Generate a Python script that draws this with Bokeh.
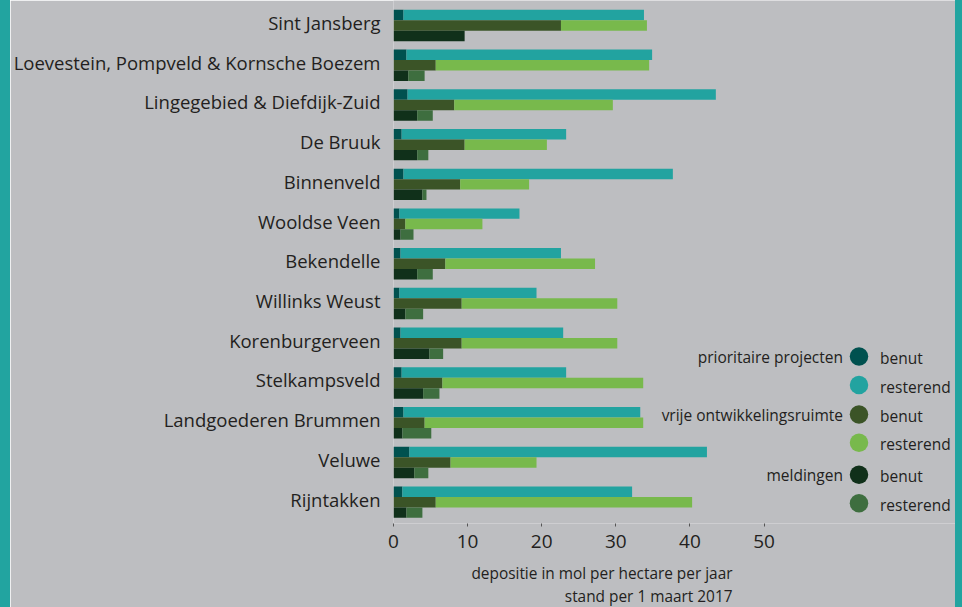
import numpy as np
from bokeh.plotting import figure
from bokeh.models import ColumnDataSource, FixedTicker, Range1d, Title, Spacer
from bokeh.core.properties import value
from bokeh.layouts import row
from bokeh.embed import file_html
from bokeh.resources import INLINE

# ---------------- data ----------------
categories = ["Sint Jansberg", "Loevestein, Pompveld & Kornsche Boezem",
              "Lingegebied & Diefdijk-Zuid", "De Bruuk", "Binnenveld",
              "Wooldse Veen", "Bekendelle", "Willinks Weust", "Korenburgerveen",
              "Stelkampsveld", "Landgoederen Brummen", "Veluwe", "Rijntakken"]

pp_benut = [1.35, 1.75, 1.9, 1.1, 1.35, 0.8, 0.95, 0.8, 0.95, 1.1, 1.35, 2.15, 1.2]
pp_resterend = [32.45, 33.15, 41.6, 22.2, 36.35, 16.2, 21.65, 18.5, 21.95, 22.2, 31.95, 40.15, 31.0]
vo_benut = [22.6, 5.7, 8.2, 9.6, 9.0, 1.6, 7.0, 9.2, 9.2, 6.6, 4.2, 7.7, 5.7]
vo_resterend = [11.6, 28.8, 21.4, 11.1, 9.3, 10.4, 20.2, 21.0, 21.0, 27.1, 29.5, 11.6, 34.6]
m_benut = [9.6, 2.0, 3.2, 3.2, 3.9, 0.95, 3.2, 1.6, 4.85, 4.0, 1.2, 2.8, 1.75]
m_resterend = [0.0, 2.2, 2.1, 1.5, 0.55, 1.75, 2.1, 2.4, 1.85, 2.2, 3.9, 1.9, 2.15]

x_ticks = [0, 10, 20, 30, 40, 50]
groups = ["prioritaire projecten", "vrije ontwikkelingsruimte", "meldingen"]
parts = ["benut", "resterend"]
axis_title = ["depositie in mol per hectare per jaar", "stand per 1 maart 2017"]

# ---------------- style / layout ----------------
BG = "#bdbec1"
TEAL = "#22a4a0"
TXT = "#231f20"
FONT = "Open Sans"
COLORS = [["#00514f", "#22a3a0"],
          ["#3b5427", "#78b94c"],
          ["#10301a", "#3e6e3f"]]

W, H = 962, 607
LEFT_STRIP, RIGHT_STRIP = 10, 7
MAIN_W = W - LEFT_STRIP - RIGHT_STRIP
FRAME_LEFT_PAGE = 393
FRAME_RIGHT_PAGE = W - RIGHT_STRIP
LEFT_B = FRAME_LEFT_PAGE - LEFT_STRIP
FRAME_BOTTOM_PAGE = 523
BOTTOM_B = H - FRAME_BOTTOM_PAGE
PX_PER_X = 7.41
PX_PER_CAT = 39.72
LABEL0_PX = 22.0           # first category tick, px below frame top
frame_w = MAIN_W - LEFT_B
frame_h = H - BOTTOM_B

x_end = frame_w / PX_PER_X
y_top = -LABEL0_PX / PX_PER_CAT
y_bot = y_top + frame_h / PX_PER_CAT


def px_to_x(px):
    return (px - FRAME_LEFT_PAGE) / PX_PER_X


def py_to_y(py):
    return (py - LABEL0_PX) / PX_PER_CAT


p = figure(width=MAIN_W, height=H, output_backend="svg", toolbar_location=None,
           x_range=Range1d(0, x_end), y_range=Range1d(y_bot, y_top),
           min_border_left=LEFT_B, min_border_right=0, min_border_top=0,
           min_border_bottom=BOTTOM_B)
p.background_fill_color = BG
p.border_fill_color = BG
p.outline_line_color = None
p.xgrid.visible = False
p.ygrid.visible = False

idx = np.arange(len(categories), dtype=float)
bar_px = 10.47
bar_h = bar_px / PX_PER_CAT
offsets = [(3 - bar_px) / PX_PER_CAT, 3 / PX_PER_CAT, (3 + bar_px) / PX_PER_CAT]

src = ColumnDataSource(dict(
    pp_benut=pp_benut, pp_resterend=pp_resterend,
    vo_benut=vo_benut, vo_resterend=vo_resterend,
    m_benut=m_benut, m_resterend=m_resterend,
    y_pp=idx + offsets[0], y_vo=idx + offsets[1], y_m=idx + offsets[2]))

for key, ycol, cols in zip(["pp", "vo", "m"], ["y_pp", "y_vo", "y_m"], COLORS):
    p.hbar_stack([key + "_benut", key + "_resterend"], y=ycol, height=bar_h,
                 fill_color=cols, line_color=None, source=src)

# y axis: category labels
p.yaxis.ticker = FixedTicker(ticks=list(range(len(categories))))
p.yaxis.major_label_overrides = {i: c for i, c in enumerate(categories)}
p.yaxis.axis_line_color = None
p.yaxis.major_tick_line_color = None
p.yaxis.major_tick_out = 0
p.yaxis.major_tick_in = 0
p.yaxis.minor_tick_line_color = None
p.yaxis.major_label_standoff = 13
p.yaxis.major_label_text_font = FONT
p.yaxis.major_label_text_font_size = "18.5px"
p.yaxis.major_label_text_color = TXT

# x axis
p.xaxis.ticker = FixedTicker(ticks=x_ticks)
p.xaxis.axis_line_color = None
p.xaxis.major_tick_out = 3
p.xaxis.major_tick_in = 0
p.xaxis.major_tick_line_color = "#555555"
p.xaxis.minor_tick_line_color = None
p.xaxis.major_label_standoff = 8
p.xaxis.major_label_text_font = FONT
p.xaxis.major_label_text_font_size = "19px"
p.xaxis.major_label_text_color = TXT
# blank spacer label to push the two-line axis title down
p.xaxis.axis_label = " "
p.xaxis.axis_label_text_font_size = "7px"
p.xaxis.axis_label_standoff = 0

# axis title (right aligned, two lines, below the axis)
for txt in axis_title:
    p.add_layout(Title(text=txt, align="right", offset=FRAME_RIGHT_PAGE - 732,
                       standoff=0, text_font=FONT, text_font_style="normal",
                       text_font_size="15.4px", text_color=TXT), "below")

# legend (group label, coloured dot, item label)
leg_rows = [356, 384.5, 414, 442.3, 474.3, 502.7]       # page px, dot centres
dot_x, item_x, group_x = 858.5, 879.5, 842.5
leg_colors = [c for cols in COLORS for c in cols]
leg_labels = [pt for _ in groups for pt in parts]
leg_src = ColumnDataSource(dict(
    x=[px_to_x(dot_x)] * len(leg_rows),
    y=[py_to_y(r) for r in leg_rows],
    ty=[py_to_y(r + 1.5) for r in leg_rows],
    tx=[px_to_x(item_x)] * len(leg_rows),
    color=leg_colors, label=leg_labels))
p.scatter(x="x", y="y", marker="circle", size=18.5, fill_color="color",
          line_color=None, source=leg_src)
p.text(x="tx", y="ty", text="label", text_align="left", text_baseline="middle",
       text_font=value(FONT), text_font_size="15.5px", text_color=TXT,
       source=leg_src)
grp_src = ColumnDataSource(dict(
    x=[px_to_x(group_x)] * len(groups),
    y=[py_to_y(leg_rows[0]), py_to_y(leg_rows[2]), py_to_y(leg_rows[4])],
    text=groups))
p.text(x="x", y="y", text="text", text_align="right", text_baseline="middle",
       text_font=value(FONT), text_font_size="15.5px", text_color=TXT,
       source=grp_src)

left_strip = Spacer(width=LEFT_STRIP, height=H, styles={"background-color": TEAL})
right_strip = Spacer(width=RIGHT_STRIP, height=H, styles={"background-color": TEAL})

layout = row(left_strip, p, right_strip)
open("out.html", "w").write(file_html(layout, INLINE))
